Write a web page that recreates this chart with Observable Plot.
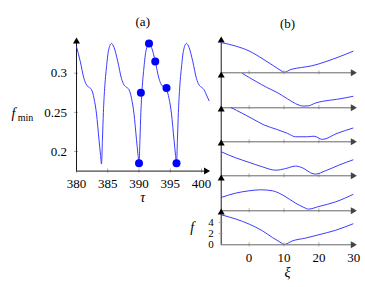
<!DOCTYPE html>
<html><head><meta charset="utf-8">
<script src="https://cdn.jsdelivr.net/npm/d3@7"></script>
<script src="https://cdn.jsdelivr.net/npm/@observablehq/plot@0.6"></script>
<style>
html,body{margin:0;padding:0;background:#fff;}
#wrap{position:relative;width:365px;height:287px;overflow:hidden;background:#fff;font-family:'Liberation Serif',serif;}
#wrap svg{position:absolute;overflow:visible;background:transparent;font-family:'Liberation Serif',serif;}
</style></head><body><div id="wrap"></div>
<script>
// ---- Panel (a): f_min versus tau ----
const tau = [380.0,380.6,381.2,381.6,382.0,382.4,382.8,383.2,383.6,383.85,384.0,384.15,384.3,384.5,384.8,385.1,385.6,386.0,386.6,387.2,387.6,388.0,388.4,388.8,389.2,389.6,389.85,390.0,390.15,390.3,390.5,390.8,391.1,391.6,392.0,392.6,393.2,393.6,394.0,394.4,394.8,395.2,395.6,395.85,396.0,396.15,396.3,396.5,396.8,397.1,397.6,398.0,398.6,399.2,399.6,400.0,400.4,400.8,401.2];
const fmin = [0.334,0.315,0.293,0.285,0.282,0.279,0.268,0.248,0.215,0.195,0.184,0.215,0.25,0.28,0.308,0.328,0.338,0.333,0.315,0.293,0.285,0.282,0.279,0.268,0.248,0.215,0.195,0.184,0.215,0.25,0.28,0.308,0.328,0.338,0.333,0.315,0.293,0.285,0.282,0.279,0.268,0.248,0.215,0.195,0.184,0.215,0.25,0.28,0.308,0.328,0.338,0.333,0.315,0.293,0.285,0.282,0.279,0.272,0.265];
const dotTau = [390.0, 390.3, 391.6, 392.6, 394.4, 396.0];
const dotF   = [0.185, 0.275, 0.338, 0.315, 0.281, 0.185];
const tauTicks = [380, 385, 390, 395, 400];
const fTicks = [0.2, 0.25, 0.3];
const fTickLabels = ["0.2", "0.25", "0.3"];

// ---- Panel (b): f versus xi, six snapshots ----
const p1Xi = [-8,-4,0,4,7,9.5,10,12,15,18,22,26,30];
const p1F  = [5.4,4.8,3.9,2.45,1.25,0.25,0.08,0.6,0.95,1.25,2.0,2.9,3.9];
const p2Xi = [-1.9,2,5,8,11,14,15.5,17,19,21,25,30];
const p2F  = [6.12,4.7,3.65,2.75,1.6,0.55,0.3,0.35,0.85,1.15,1.5,2.07];
const p3Xi = [-5.2,-2,1,4.3,8,11,13.3,16.7,18.6,21,25.2,30];
const p3F  = [6.12,5.1,4.1,3.0,2.2,1.5,0.9,0.9,1.0,0.43,1.5,2.5];
const p4Xi = [-8,-3.8,0,3.8,7.6,10.5,13.3,15.7,17.6,19,21.9,25.7,30];
const p4F  = [4.29,3.2,2.4,1.6,1.0,1.3,1.73,1.3,0.54,0.3,0.9,1.9,2.9];
const p5Xi = [-8,-3.8,0,3.3,6.7,10,13.3,15.7,17,20,24.8,30];
const p5F  = [2.38,3.16,3.57,3.75,3.57,2.68,1.37,0.6,0.3,0.77,1.6,2.98];
const p6Xi = [-8,-3.8,0,3.8,6.7,9.5,10,12.4,16.2,20,24.8,30];
const p6F  = [5.36,4.6,3.7,2.5,1.3,0.23,0.05,0.7,1.2,1.8,2.6,3.8];
const xiTicks = [0, 10, 20, 30];
const fTicksB = [0, 2, 4];

const FONT = "Liberation Serif";
const BLUE = "#3b3bff";
const wrap = document.getElementById("wrap");
const T = (o) => Object.assign({fontFamily: FONT, fontSize: 13, fill: "black"}, o);

// ---------- left chart ----------
const X0 = 380, X1 = 401.2, Y0 = 0.175, Y1 = 0.343;
const left = Plot.plot({
  width: 215, height: 287,
  marginTop: 39, marginBottom: 116.4, marginLeft: 76, marginRight: 6.5,
  x: {domain: [X0, X1], axis: null},
  y: {domain: [Y0, Y1], axis: null},
  style: {background: "transparent", overflow: "visible", fontFamily: FONT, fontSize: "13px", color: "black"},
  marks: [
    Plot.ruleX(tauTicks, {x: d => d, y1: Y0 - 0.0027, y2: Y0 + 0.0027, stroke: "#9a9a9a", strokeWidth: 0.8}),
    Plot.ruleY(fTicks, {y: d => d, x1: X0 - 0.33, x2: X0 + 0.33, stroke: "#9a9a9a", strokeWidth: 0.8}),
    Plot.ruleX([X0], {y1: Y0, y2: Y1, stroke: "black", strokeWidth: 0.9}),
    Plot.ruleY([Y0], {x1: X0, x2: X1 - 0.15, stroke: "black", strokeWidth: 0.9}),
    Plot.dot([0], {x: X0, y: Y1, dy: 2, symbol: "triangle", r: 2.6, fill: "black", stroke: "none"}),
    Plot.dot([0], {x: X1 - 0.15, y: Y0, dx: -2, symbol: "triangle", rotate: 90, r: 2.6, fill: "black", stroke: "none"}),
    Plot.line(tau.map((t, i) => ({t, f: fmin[i]})), {x: "t", y: "f", curve: "monotone-x", stroke: BLUE, strokeWidth: 1}),
    Plot.dot(dotTau.map((t, i) => ({t, f: dotF[i]})), {x: "t", y: "f", r: 4, fill: "#0000ff", stroke: "none"}),
    Plot.text(tauTicks, T({x: d => d, y: Y0, dy: 12.5, text: d => String(d)})),
    Plot.text(fTicks.map((v, i) => ({v, s: fTickLabels[i]})), T({x: X0, y: "v", dx: -9.5, text: "s", textAnchor: "end"})),
    Plot.text(["(a)"], T({text: d => d, frameAnchor: "top", dy: -23, textAnchor: "middle"})),
    Plot.text(["τ"], T({text: d => d, frameAnchor: "bottom", dy: 30.5, fontSize: 14, fontStyle: "italic", textAnchor: "middle"})),
    Plot.text(["f"], T({text: d => d, frameAnchor: "left", dx: -63, dy: 8, fontSize: 14, fontStyle: "italic", textAnchor: "middle"})),
    Plot.text(["min"], T({text: d => d, frameAnchor: "left", dx: -51, dy: 12, fontSize: 10, textAnchor: "middle"}))
  ]
});
left.style.left = "0px"; left.style.top = "0px";
wrap.appendChild(left);

// ---------- right chart: six stacked panels ----------
const panels = [[p1Xi, p1F], [p2Xi, p2F], [p3Xi, p3F], [p4Xi, p4F], [p5Xi, p5F], [p6Xi, p6F]];
const H = 34.3, FIRST_BASE = 72.7, XA = -8, XB = 30, YT = 6.125;
panels.forEach(([xs, fs], i) => {
  const bottom = i === panels.length - 1;
  const mt = 4, mb = bottom ? 45 : 4;
  const marks = [
    Plot.ruleX(xiTicks, {x: d => d, y1: -0.36, y2: 0.36, stroke: "#9a9a9a", strokeWidth: 0.8}),
    Plot.ruleY([0], {x1: XA, x2: XB + 0.3, stroke: "#666", strokeWidth: 1}),
    Plot.dot([0], {x: XB + 0.3, y: 0, dx: -2, symbol: "triangle", rotate: 90, r: 2.6, fill: "#444", stroke: "none"}),
    Plot.ruleX([XA], {y1: 0, y2: YT, stroke: "black", strokeWidth: 0.9}),
    Plot.dot([0], {x: XA, y: YT, dy: 2, symbol: "triangle", r: 2.6, fill: "black", stroke: "none"}),
    Plot.line(xs.map((x, j) => ({x, f: fs[j]})), {x: "x", y: "f", curve: "monotone-x", stroke: BLUE, strokeWidth: 1, clip: true})
  ];
  if (i === 0) marks.push(Plot.text(["(b)"], T({text: d => d, frameAnchor: "top", dy: -20, textAnchor: "middle"})));
  if (bottom) {
    marks.push(
      Plot.ruleY(fTicksB.filter(v => v > 0), {y: d => d, x1: XA - 0.6, x2: XA + 0.6, stroke: "#9a9a9a", strokeWidth: 0.8}),
      Plot.text(xiTicks, T({x: d => d, y: 0, dy: 13.5, text: d => String(d)})),
      Plot.text(fTicksB, T({x: XA, y: d => d, dx: -7.5, text: d => String(d), textAnchor: "end", fontSize: 11})),
      Plot.text(["ξ"], T({text: d => d, frameAnchor: "bottom", dy: 32.5, fontSize: 14, fontStyle: "italic", textAnchor: "middle"})),
      Plot.text(["f"], T({text: d => d, frameAnchor: "left", dx: -29, dy: 0, fontSize: 14, fontStyle: "italic", textAnchor: "middle"}))
    );
  }
  const svg = Plot.plot({
    width: 180, height: mt + H + mb,
    marginTop: mt, marginBottom: mb, marginLeft: 35.7, marginRight: 11.7,
    x: {domain: [XA, XB], axis: null},
    y: {domain: [0, YT], axis: null},
    style: {background: "transparent", overflow: "visible", fontFamily: FONT, fontSize: "13px", color: "black"},
    marks
  });
  const base = FIRST_BASE + i * H;
  svg.style.left = "185px";
  svg.style.top = (base - H - mt) + "px";
  wrap.appendChild(svg);
});
</script></body></html>
